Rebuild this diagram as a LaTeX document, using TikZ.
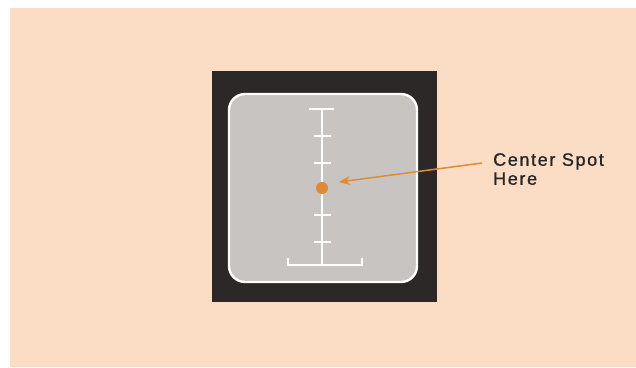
\documentclass[tikz,border=0pt]{standalone}
\usepackage{fontspec}
\setmainfont{Liberation Sans}
\newfontfamily\calloutfont[LetterSpace=9,FakeBold=1]{Liberation Sans}
\usetikzlibrary{arrows.meta}
\definecolor{peach}{RGB}{250,221,196}
\definecolor{bezel}{RGB}{45,40,40}
\definecolor{screen}{RGB}{200,196,194}
\definecolor{spot}{RGB}{222,140,52}
\begin{document}
\begin{tikzpicture}[x=1pt,y=-1pt,
  reticle/.style={draw=white,line width=1.6pt},
  callout/.style={draw=spot,line width=1.5pt,-{Stealth[length=11pt,width=9pt]}},
  lbl/.style={font=\calloutfont\fontsize{18}{19}\selectfont,align=left,anchor=north west,inner sep=0pt,text=black!85}]
\useasboundingbox (0,0) rectangle (636,367);
\fill[white] (0,0) rectangle (636,367);
\fill[peach] (10,8) rectangle (636,367);
\node[fill=bezel,minimum width=225pt,minimum height=231pt,inner sep=0pt] (bezel) at (324.5,186.5) {};
\node[fill=screen,draw=white,line width=2.4pt,rounded corners=16pt,minimum width=188pt,minimum height=188pt,inner sep=0pt] (screen) at (323,188) {};
\coordinate (top) at (322,109);
\coordinate (bot) at (322,265);
\draw[reticle] (top) -- (bot);
\draw[reticle] (309,109) -- (334,109);
\foreach \yy in {136,163,215,242} \draw[reticle] (314,\yy) -- (331,\yy);
\draw[reticle] (288,258) -- (288,265) -- (362,265) -- (362,258);
\fill[spot] (322,188) circle (6pt) node (dot) {};
\coordinate (tail) at (482,163);
\coordinate (tip) at (339,182);
\draw[callout] (tail) -- (tip);
\node[lbl] (label) at (493,153) {Center Spot\\Here};
\end{tikzpicture}
\end{document}
